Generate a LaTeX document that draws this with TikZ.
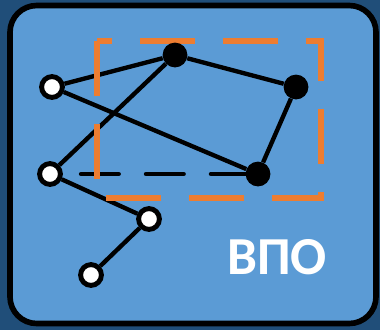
\documentclass[tikz,border=0pt]{standalone}
\usepackage{fontspec}
\newfontfamily\labelfont{Carlito}
\pgfdeclarelayer{back}
\pgfdeclarelayer{lines}
\pgfsetlayers{back,lines,main}
\definecolor{navy}{RGB}{32,78,121}
\definecolor{cardblue}{RGB}{91,155,213}
\definecolor{boxorange}{RGB}{237,125,49}

\begin{document}
\begin{tikzpicture}[x=0.025cm,y=-0.025cm,
        open/.style={circle,draw=black,fill=white,line width=3.5pt,minimum size=0.52cm,inner sep=0pt},
        full/.style={circle,fill=black,minimum size=0.62cm,inner sep=0pt},
        link/.style={line width=3.1pt},
        hidden/.style={link,line cap=round,dash pattern=on 26.8pt off 19.4pt,dash phase=33.3pt},
        selbox/.style={draw=boxorange,line width=4.3pt,dash pattern=on 39.1pt off 19.9pt,dash phase=28.5pt}]
    % graph vertices
    \node[open] (a) at (52,87) {};
    \node[full] (b) at (175,55) {};
    \node[full] (c) at (296,87) {};
    \node[full] (d) at (258,174) {};
    \node[open] (e) at (50,174) {};
    \node[open] (f) at (149,219) {};
    \node[open] (g) at (91,275) {};
    \node[text=white,font=\labelfont\bfseries\fontsize{38}{38}\selectfont] (tag) at (277,257) {ВПО};
    \begin{pgfonlayer}{back}
        \fill[navy] (0,0) rectangle (380,330);
        \draw[line width=4pt,fill=cardblue,rounded corners=19pt] (10,5.5) rectangle (376,323.5);
    \end{pgfonlayer}
    \begin{pgfonlayer}{lines}
        \draw[link] (a) -- (b);
        \draw[link] (a) -- (d);
        \draw[link] (b) -- (c);
        \draw[link] (c) -- (d);
        \draw[link] (b) -- (e);
        \draw[link] (e) -- (f);
        \draw[link] (f) -- (g);
        \draw[hidden] (e) -- (d);
        % selection frame
        \draw[selbox] (97,41) -- (321,41) -- (321,198) -- (97,198) -- cycle;
    \end{pgfonlayer}
\end{tikzpicture}
\end{document}
